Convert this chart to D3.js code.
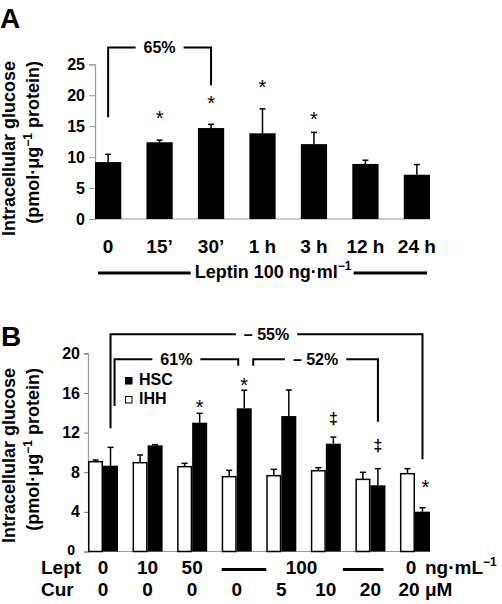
<!DOCTYPE html>
<html><head><meta charset="utf-8">
<script src="https://cdn.jsdelivr.net/npm/d3@7"></script>
<style>
html,body{margin:0;padding:0;background:#fff;}
svg{display:block;font-family:"Liberation Sans",Arial,sans-serif;}
</style></head>
<body>
<script>
// ---------- DATA: Panel A ----------
const timeLabels = ["0", "15\u2019", "30\u2019", "1 h", "3 h", "12 h", "24 h"];
const glucoseA = [9.2, 12.4, 14.7, 13.85, 12.1, 8.9, 7.15];
const semA = [1.25, 0.35, 0.6, 3.95, 1.9, 0.6, 1.65];
const sigA = ["", "*", "*", "*", "*", "", ""];
const sigLevelA = [null, 16.9, 19.35, 21.9, 16.8, null, null];
const ticksA = [0, 5, 10, 15, 20, 25];
const bracketA = {from: 0, to: 2, top: 27.7, leftEnd: 16.45, rightEnd: 21.6, label: "65%"};

// ---------- DATA: Panel B ----------
const groupsB = ["g1", "g2", "g3", "g4", "g5", "g6", "g7", "g8"];
const leptRow = ["0", "10", "50", "", "", "", "", "0"];
const curRow = ["0", "0", "0", "0", "5", "10", "20", "20"];
const ihh = [9.06, 8.96, 8.56, 7.55, 7.65, 8.15, 7.28, 7.85];
const ihhSem = [0.17, 0.78, 0.34, 0.64, 0.64, 0.31, 0.71, 0.51];
const hsc = [8.66, 10.71, 13.0, 14.45, 13.67, 10.88, 6.68, 4.02];
const hscSem = [1.85, 0.07, 0.94, 1.82, 2.63, 0.67, 1.68, 0.40];
const sigB = ["", "", "*", "*", "", "\u2021", "\u2021", "*"];
const sigLevelB = [null, null, 14.95, 17.25, null, 13.4, 10.6, 6.9];
const ticksB = [0, 4, 8, 12, 16, 20];
const bracketsB = [
  {from: 0, to: 7, top: 21.92, leftEnd: 12.43, rightEnd: 9.3, label: "\u2013 55%"},
  {from: 0, to: 3, top: 19.4, leftEnd: 14.68, rightEnd: 18.75, label: "61%"},
  {from: 3, to: 6, top: 19.4, leftEnd: 18.75, rightEnd: 13.1, label: "\u2013 52%"}
];

const W = 502, H = 604;
const svg = d3.select("body").append("svg").attr("width", W).attr("height", H);
svg.append("rect").attr("width", W).attr("height", H).attr("fill", "#fff");

function superText(sel, base, sup, size, supSize) {
  sel.append("tspan").text(base);
  sel.append("tspan").attr("font-size", supSize).attr("dy", -size * 0.42).text(sup);
}

// ================= PANEL A =================
const xA = d3.scaleBand().domain(timeLabels).range([95, 430]).paddingInner(0.49).paddingOuter(0);
const yA = d3.scaleLinear().domain([0, 25]).range([219, 64.3]);
const gA = svg.append("g");

gA.append("text").attr("x", 0).attr("y", 28).attr("font-size", 28).attr("font-weight", "bold").text("A");

// y axis
const axA = gA.append("g").attr("transform", "translate(95,0)")
  .call(d3.axisLeft(yA).tickValues(ticksA).tickSize(6).tickPadding(4));
axA.select(".domain").attr("stroke", "#9a9a9a").attr("stroke-width", 1.2);
axA.selectAll(".tick line").attr("stroke", "#9a9a9a");
axA.selectAll(".tick text").attr("font-size", 16).attr("font-weight", "bold").attr("fill", "#000")
  .attr("font-family", "Liberation Sans, Arial, sans-serif");
// x baseline
gA.append("line").attr("x1", 95).attr("x2", 430).attr("y1", yA(0)).attr("y2", yA(0))
  .attr("stroke", "#9a9a9a").attr("stroke-width", 1.2);

// bars
gA.selectAll("rect.bar").data(glucoseA).join("rect")
  .attr("x", (d, i) => xA(timeLabels[i])).attr("width", xA.bandwidth())
  .attr("y", d => yA(d)).attr("height", d => yA(0) - yA(d)).attr("fill", "#000");
// error bars
glucoseA.forEach((d, i) => {
  const cx = xA(timeLabels[i]) + xA.bandwidth() / 2;
  gA.append("line").attr("x1", cx).attr("x2", cx).attr("y1", yA(d)).attr("y2", yA(d + semA[i]))
    .attr("stroke", "#000").attr("stroke-width", 1.5);
  gA.append("line").attr("x1", cx - 3).attr("x2", cx + 3).attr("y1", yA(d + semA[i])).attr("y2", yA(d + semA[i]))
    .attr("stroke", "#000").attr("stroke-width", 1.5);
  if (sigA[i]) {
    gA.append("text").attr("x", cx).attr("y", yA(sigLevelA[i]) + 11).attr("text-anchor", "middle")
      .attr("font-size", 20).attr("fill", "#000").text(sigA[i]);
  }
});
// x labels
gA.selectAll("text.xl").data(timeLabels).join("text")
  .attr("x", d => xA(d) + xA.bandwidth() / 2).attr("y", 253).attr("text-anchor", "middle")
  .attr("font-size", 19).attr("font-weight", "bold").text(d => d);
// Leptin line label
const lepT = gA.append("text").attr("x", 273).attr("y", 278).attr("text-anchor", "middle")
  .attr("font-size", 18).attr("font-weight", "bold");
superText(lepT, "Leptin 100 ng\u00b7ml", "\u22121", 18, 12);
const lb = lepT.node().getBBox();
gA.append("line").attr("x1", 98).attr("x2", lb.x - 4).attr("y1", 273).attr("y2", 273).attr("stroke", "#000").attr("stroke-width", 3);
gA.append("line").attr("x1", lb.x + lb.width + 2).attr("x2", 427).attr("y1", 273).attr("y2", 273).attr("stroke", "#000").attr("stroke-width", 3);

// y label
function yLabel(g, endY) {
  g.append("text").attr("transform", `translate(15,${endY}) rotate(-90)`).attr("text-anchor", "end")
    .attr("font-size", 18).attr("font-weight", "bold").text("Intracellular glucose");
  const t2 = g.append("text").attr("transform", `translate(39,${endY}) rotate(-90)`).attr("text-anchor", "end")
    .attr("font-size", 18).attr("font-weight", "bold");
  t2.append("tspan").text("(pmol\u00b7\u03bcg");
  t2.append("tspan").attr("font-size", 12).attr("dy", -7).text("\u22121");
  t2.append("tspan").attr("dy", 7).text(" protein)");
}
yLabel(gA, 61);

// bracket helper
function bracket(g, x1, x2, yTop, yL, yR, label, fs) {
  const t = g.append("text").attr("x", (x1 + x2) / 2).attr("y", yTop + 5.5).attr("text-anchor", "middle")
    .attr("font-size", fs).attr("font-weight", "bold").text(label);
  const b = t.node().getBBox();
  g.append("path").attr("fill", "none").attr("stroke", "#000").attr("stroke-width", 2)
    .attr("d", `M${x1},${yL}V${yTop}H${b.x - 8}M${b.x + b.width + 8},${yTop}H${x2}V${yR}`);
}
{
  const cx1 = xA(timeLabels[bracketA.from]) + xA.bandwidth() / 2;
  const cx2 = xA(timeLabels[bracketA.to]) + xA.bandwidth() / 2;
  bracket(gA, cx1, cx2, yA(bracketA.top), yA(bracketA.leftEnd), yA(bracketA.rightEnd), bracketA.label, 16);
}

// ================= PANEL B =================
const xB = d3.scaleBand().domain(groupsB).range([88, 430]).paddingInner(0.326).paddingOuter(0);
const xSub = d3.scaleBand().domain(["IHH", "HSC"]).range([0, xB.bandwidth()]);
const yB = d3.scaleLinear().domain([0, 20]).range([551.5, 353.3]);
const gB = svg.append("g");

gB.append("text").attr("x", 1).attr("y", 346).attr("font-size", 28).attr("font-weight", "bold").text("B");

const axB = gB.append("g").attr("transform", "translate(88,0)")
  .call(d3.axisLeft(yB).tickValues(ticksB).tickSize(4).tickPadding(4));
axB.select(".domain").attr("stroke", "#9a9a9a").attr("stroke-width", 1.2);
axB.selectAll(".tick line").attr("stroke", "#777");
axB.selectAll(".tick text").attr("font-size", 16).attr("font-weight", "bold").attr("fill", "#000")
  .attr("font-family", "Liberation Sans, Arial, sans-serif");
axB.selectAll(".tick text").filter(d => d === 0).attr("dy", "0.2em").attr("x", -13).attr("font-size", 14);
gB.append("line").attr("x1", 88).attr("x2", 430).attr("y1", yB(0)).attr("y2", yB(0))
  .attr("stroke", "#9a9a9a").attr("stroke-width", 1.2);

function barsB(vals, sems, key, fill) {
  vals.forEach((d, i) => {
    const x0 = xB(groupsB[i]) + xSub(key);
    const w = xSub.bandwidth();
    const white = fill === "#fff";
    gB.append("rect").attr("x", x0 + (white ? 0.75 : 0)).attr("y", yB(d))
      .attr("width", w - (white ? 1.5 : 0)).attr("height", yB(0) - yB(d))
      .attr("fill", fill).attr("stroke", white ? "#000" : "none").attr("stroke-width", 1.5);
    const cx = x0 + w / 2;
    const ye = yB(d + sems[i]);
    gB.append("line").attr("x1", cx).attr("x2", cx).attr("y1", yB(d)).attr("y2", ye).attr("stroke", "#000").attr("stroke-width", 1.5);
    gB.append("line").attr("x1", cx - 3).attr("x2", cx + 3).attr("y1", ye).attr("y2", ye).attr("stroke", "#000").attr("stroke-width", 1.5);
  });
}
barsB(ihh, ihhSem, "IHH", "#fff");
barsB(hsc, hscSem, "HSC", "#000");

const hscCx = i => xB(groupsB[i]) + xSub("HSC") + xSub.bandwidth() / 2;
sigB.forEach((s, i) => {
  if (!s) return;
  if (s === "*") {
    gB.append("text").attr("x", hscCx(i) + (i === 7 ? 3 : 0)).attr("y", yB(sigLevelB[i]) + 11).attr("text-anchor", "middle")
      .attr("font-size", 20).attr("fill", "#000").text(s);
  } else {
    gB.append("text").attr("x", hscCx(i)).attr("y", yB(sigLevelB[i]) + 5).attr("text-anchor", "middle")
      .attr("font-size", 16).attr("font-weight", "bold").attr("fill", "#000")
      .attr("font-family", "Liberation Sans, Arial, sans-serif").text(s);
  }
});

// brackets B
const offs = [[0, 0], [4, -6], [9, 0]];
bracketsB.forEach((b, k) => {
  const x1 = hscCx(b.from) + offs[k][0];
  const x2 = hscCx(b.to) + offs[k][1];
  bracket(gB, x1, x2, yB(b.top), yB(b.leftEnd), yB(b.rightEnd), b.label, 16);
});

// legend
const leg = gB.append("g").attr("transform", "translate(125,377)");
[["HSC", "#000"], ["IHH", "#fff"]].forEach((d, i) => {
  leg.append("rect").attr("x", 0.5).attr("y", i * 19 + 0.5).attr("width", 6.5).attr("height", 6.5)
    .attr("fill", d[1]).attr("stroke", "#000").attr("stroke-width", 1);
  leg.append("text").attr("x", 14).attr("y", i * 19 + 8).attr("font-size", 16).attr("font-weight", "bold").text(d[0]);
});

// y label B
yLabel(gB, 368);

// treatment rows
const gc = i => xB(groupsB[i]) + xB.bandwidth() / 2;
gB.append("text").attr("x", 41).attr("y", 574).attr("font-size", 19).attr("font-weight", "bold").text("Lept");
gB.append("text").attr("x", 41).attr("y", 596).attr("font-size", 19).attr("font-weight", "bold").text("Cur");
leptRow.forEach((d, i) => {
  if (!d) return;
  gB.append("text").attr("x", gc(i) + (i === 7 ? -4 : 0)).attr("y", 574).attr("text-anchor", "middle")
    .attr("font-size", 19).attr("font-weight", "bold").text(d);
});
curRow.forEach((d, i) => {
  gB.append("text").attr("x", gc(i) + (i === 7 ? -6 : 0)).attr("y", 596).attr("text-anchor", "middle")
    .attr("font-size", 19).attr("font-weight", "bold").text(d);
});
const l1a = xB(groupsB[3]), l1b = xB(groupsB[4]);
const l2a = xB(groupsB[5]) + xB.bandwidth() + 2, l2b = xB(groupsB[6]) + xB.bandwidth() - 2;
gB.append("line").attr("x1", l1a).attr("x2", l1b).attr("y1", 569.5).attr("y2", 569.5).attr("stroke", "#000").attr("stroke-width", 3);
gB.append("line").attr("x1", l2a).attr("x2", l2b).attr("y1", 569.5).attr("y2", 569.5).attr("stroke", "#000").attr("stroke-width", 3);
gB.append("text").attr("x", (l1b + l2a) / 2 - 3).attr("y", 574).attr("text-anchor", "middle")
  .attr("font-size", 19).attr("font-weight", "bold").text("100");
const unitL = gB.append("text").attr("x", gc(7) + 10).attr("y", 574).attr("font-size", 19).attr("font-weight", "bold");
superText(unitL, "ng\u00b7mL", "\u22121", 19, 12);
gB.append("text").attr("x", gc(7) + 10).attr("y", 596).attr("font-size", 19).attr("font-weight", "bold").text("\u03bcM");
</script>
</body></html>
